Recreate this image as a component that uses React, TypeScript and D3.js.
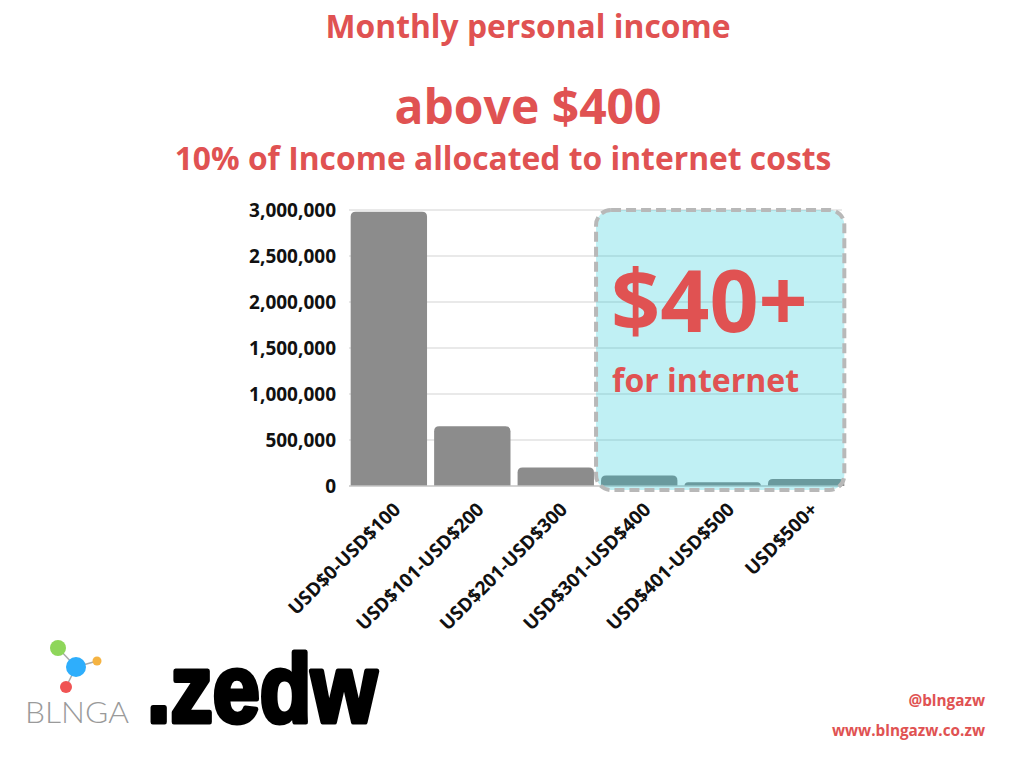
import { useEffect, useRef } from 'react';
import * as d3 from 'd3';

const categories = [
    "USD$0-USD$100",
    "USD$101-USD$200",
    "USD$201-USD$300",
    "USD$301-USD$400",
    "USD$401-USD$500",
    "USD$500+",
];
const values = [2980000, 650000, 200000, 115000, 40000, 75000];
const yTicks = [0, 500000, 1000000, 1500000, 2000000, 2500000, 3000000];
const highlighted = ["USD$301-USD$400", "USD$401-USD$500", "USD$500+"];

const RED = "#e05252";
const FONT = "'Open Sans', sans-serif";

export default function App() {
    const svgRef = useRef<SVGSVGElement>(null);

    useEffect(() => {
        const svg = d3.select(svgRef.current);
        svg.selectAll("*").remove();

        const width = 1024;
        const height = 768;
        svg.attr("width", width).attr("height", height);

        svg.append("rect").attr("width", width).attr("height", height).attr("fill", "#ffffff");

        // Titles
        const titles = [
            { text: "Monthly personal income", x: 528, y: 38, size: 31.8 },
            { text: "above $400", x: 528, y: 124, size: 48 },
            { text: "10% of Income allocated to internet costs", x: 503, y: 170, size: 31.8 },
        ];
        svg.selectAll(".title")
            .data(titles)
            .enter().append("text")
            .attr("class", "title")
            .attr("x", d => d.x)
            .attr("y", d => d.y)
            .attr("text-anchor", "middle")
            .style("font-family", FONT)
            .style("font-weight", "700")
            .style("font-size", d => d.size + "px")
            .style("fill", RED)
            .text(d => d.text);

        const left = 349;
        const right = 846;
        const top = 210;
        const bottom = 486;

        const xScale = d3.scaleBand()
            .domain(categories)
            .range([left, right])
            .paddingInner(0.085)
            .paddingOuter(0.02);

        const yScale = d3.scaleLinear()
            .domain([0, 3000000])
            .range([bottom, top]);

        const g = svg.append("g");

        // Grid
        g.selectAll(".grid")
            .data(yTicks.slice(1))
            .enter().append("line")
            .attr("class", "grid")
            .attr("x1", left)
            .attr("x2", right - 4)
            .attr("y1", d => yScale(d))
            .attr("y2", d => yScale(d))
            .attr("stroke", "#e2e2e2")
            .attr("stroke-width", 1.5);

        // Y labels
        g.selectAll(".ylab")
            .data(yTicks)
            .enter().append("text")
            .attr("class", "ylab")
            .attr("x", 336)
            .attr("y", d => yScale(d))
            .attr("dy", "0.36em")
            .attr("text-anchor", "end")
            .style("font-family", FONT)
            .style("font-weight", "700")
            .style("font-size", "19px")
            .style("fill", "#111")
            .text(d => d3.format(",")(d));

        // Bars with rounded tops
        const bw = xScale.bandwidth();
        const barPath = (x: number, y: number, w: number, h: number) => {
            const r = Math.min(5, h, w / 2);
            return `M${x},${y + h}V${y + r}Q${x},${y} ${x + r},${y}H${x + w - r}Q${x + w},${y} ${x + w},${y + r}V${y + h}Z`;
        };
        g.selectAll(".bar")
            .data(categories)
            .enter().append("path")
            .attr("class", "bar")
            .attr("d", (d, i) => {
                const x = xScale(d) || 0;
                const y = yScale(values[i]);
                return barPath(x, y, bw, bottom - y);
            })
            .attr("fill", "#8c8c8c");

        // Baseline
        g.append("line")
            .attr("x1", left)
            .attr("x2", right - 4)
            .attr("y1", bottom)
            .attr("y2", bottom)
            .attr("stroke", "#c4c4c4")
            .attr("stroke-width", 1.5);

        // X labels
        g.selectAll(".xlab")
            .data(categories)
            .enter().append("text")
            .attr("class", "xlab")
            .attr("transform", d => `translate(${(xScale(d) || 0) + bw / 2 + 8},${bottom + 20}) rotate(-45)`)
            .attr("text-anchor", "end")
            .attr("dy", "0.35em")
            .style("font-family", FONT)
            .style("font-weight", "700")
            .style("font-size", "19px")
            .style("fill", "#111")
            .text(d => d);

        // Highlight box
        const hx0 = (xScale(highlighted[0]) || 0) - 5;
        const hx1 = (xScale(highlighted[highlighted.length - 1]) || 0) + bw;
        g.append("rect")
            .attr("x", hx0)
            .attr("y", yScale(3000000))
            .attr("width", hx1 - hx0)
            .attr("height", bottom + 4 - yScale(3000000))
            .attr("rx", 15)
            .attr("fill", "#05c3d3")
            .attr("fill-opacity", 0.25)
            .attr("stroke", "#b8b8b8")
            .attr("stroke-width", 4)
            .attr("stroke-dasharray", "10,5");

        g.append("text")
            .attr("x", hx0 + 15)
            .attr("y", 332)
            .style("font-family", FONT)
            .style("font-weight", "700")
            .style("font-size", "86px")
            .style("fill", RED)
            .text("$40+");

        g.append("text")
            .attr("x", hx0 + 16)
            .attr("y", 392)
            .style("font-family", FONT)
            .style("font-weight", "700")
            .style("font-size", "32px")
            .style("fill", RED)
            .text("for internet");

        // Footer
        svg.append("text")
            .attr("x", 985)
            .attr("y", 706)
            .attr("text-anchor", "end")
            .style("font-family", FONT)
            .style("font-weight", "700")
            .style("font-size", "15.3px")
            .style("fill", RED)
            .text("@blngazw");
        svg.append("text")
            .attr("x", 985)
            .attr("y", 736)
            .attr("text-anchor", "end")
            .style("font-family", FONT)
            .style("font-weight", "700")
            .style("font-size", "15.3px")
            .style("fill", RED)
            .text("www.blngazw.co.zw");

        // Logo
        const logo = svg.append("g");
        const nodes = [
            { x: 58, y: 648, r: 8, c: "#8ed65a" },
            { x: 97, y: 661, r: 4.5, c: "#f5b342" },
            { x: 66, y: 687, r: 6, c: "#f05454" },
        ];
        nodes.forEach(n => {
            logo.append("line")
                .attr("x1", 76).attr("y1", 667)
                .attr("x2", n.x).attr("y2", n.y)
                .attr("stroke", "#aaa").attr("stroke-width", 1.5);
        });
        nodes.forEach(n => {
            logo.append("circle").attr("cx", n.x).attr("cy", n.y).attr("r", n.r).attr("fill", n.c);
        });
        logo.append("circle").attr("cx", 76).attr("cy", 667).attr("r", 10).attr("fill", "#2eaefc");
        logo.append("text")
            .attr("x", 25)
            .attr("y", 723)
            .attr("textLength", 104)
            .attr("lengthAdjust", "spacingAndGlyphs")
            .style("font-family", "Lato, sans-serif")
            .style("font-weight", "300")
            .style("font-size", "29px")
            .style("fill", "#9a9a9a")
            .text("BLNGA");
        logo.append("text")
            .attr("x", 147)
            .attr("y", 722)
            .attr("textLength", 230)
            .attr("lengthAdjust", "spacingAndGlyphs")
            .style("font-family", "'Liberation Sans', Arial, sans-serif")
            .style("font-weight", "900")
            .style("font-size", "96px")
            .style("fill", "#000")
            .style("stroke", "#000")
            .style("stroke-width", 5)
            .style("stroke-linejoin", "round")
            .text(".zedw");
    }, []);

    return <svg ref={svgRef} style={{ position: "absolute", left: 0, top: 0 }}></svg>;
}
